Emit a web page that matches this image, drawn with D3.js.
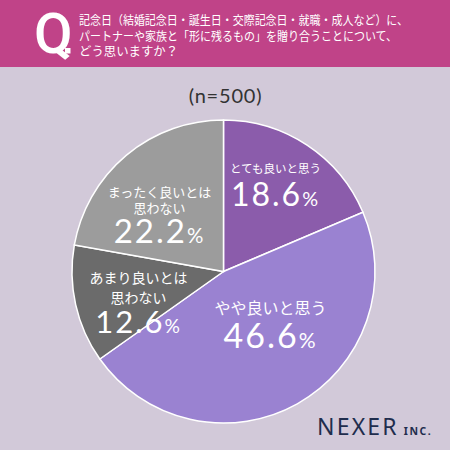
<!DOCTYPE html>
<html>
<head>
<meta charset="utf-8">
<script src="https://cdn.jsdelivr.net/npm/d3@7"></script>
<style>
  body { margin: 0; background: #d2c9d9; }
  svg { display: block; }
</style>
</head>
<body>
<div id="main"></div>
<script>
// question text and sample size
var questionLines = [
    "記念日（結婚記念日・誕生日・交際記念日・就職・成人など）に、",
    "パートナーや家族と「形に残るもの」を贈り合うことについて、",
    "どう思いますか？"
];
var sampleText = "(n=500)";

// answers, clockwise from 12 o'clock
var categories = ["とても良いと思う", "やや良いと思う", "あまり良いとは思わない", "まったく良いとは思わない"];
var labelLines = [["とても良いと思う"], ["やや良いと思う"], ["あまり良いとは", "思わない"], ["まったく良いとは", "思わない"]];
var values = [18.6, 46.6, 12.6, 22.2];
var colors = ["#8b5cab", "#9a82d1", "#6b6b6b", "#9c9c9c"];

// label placement relative to pie centre (layout only)
var labelPos = [
    { x: 52, y: -99, size: 11.5, num: 32, gap: 16, numGap: 33 },
    { x: 47, y: 42, size: 16, num: 34, gap: 19, numGap: 34 },
    { x: -85, y: 11.5, size: 14, num: 31, gap: 20, numGap: 30 },
    { x: -64, y: -74.5, size: 13, num: 33, gap: 16, numGap: 30 }
];

const width = 450;
const height = 450;
const cx = 223.5;
const cy = 271.5;
const radius = 151.5;

const jp = "'Noto Sans CJK JP', 'Noto Sans', sans-serif";
const numFont = "'Lato', 'Noto Sans', sans-serif";

const svg = d3.select("#main")
    .append("svg")
    .attr("width", width)
    .attr("height", height);

svg.append("rect")
    .attr("width", width)
    .attr("height", height)
    .attr("fill", "#d2c9d9");

// header band
svg.append("rect")
    .attr("width", width)
    .attr("height", 67)
    .attr("fill", "#c04388");

svg.append("text")
    .attr("x", 34)
    .attr("y", 53)
    .attr("fill", "#fff")
    .style("font-family", "Roboto, sans-serif")
    .style("font-weight", "500")
    .style("font-size", "56px")
    .text("Q");

svg.append("rect")
    .attr("x", 65)
    .attr("y", 48)
    .attr("width", 5.5)
    .attr("height", 5.5)
    .attr("fill", "#fff");

svg.append("g")
    .selectAll("text")
    .data(questionLines)
    .enter()
    .append("text")
    .attr("x", 79)
    .attr("y", (d, i) => 25 + i * 15.7)
    .attr("fill", "#fff")
    .attr("textLength", (d, i) => [329, 318, null][i])
    .attr("lengthAdjust", "spacingAndGlyphs")
    .style("font-family", jp)
    .style("font-size", "12.4px")
    .text(d => d);

svg.append("text")
    .attr("x", cx + 2)
    .attr("y", 103)
    .attr("text-anchor", "middle")
    .attr("fill", "#333")
    .style("font-family", numFont)
    .style("font-size", "20px")
    .style("letter-spacing", "0.8px")
    .text(sampleText);

// pie
const pie = d3.pie().sort(null).value(d => d);
const arc = d3.arc().innerRadius(0).outerRadius(radius);
const arcs = pie(values);

const g = svg.append("g")
    .attr("transform", "translate(" + cx + "," + cy + ")");

g.selectAll("path")
    .data(arcs)
    .enter()
    .append("path")
    .attr("d", arc)
    .attr("fill", (d, i) => colors[i])
    .attr("stroke", "#fff")
    .attr("stroke-width", 1.5);

const labels = g.selectAll("g.label")
    .data(arcs)
    .enter()
    .append("g")
    .attr("class", "label")
    .attr("transform", (d, i) => "translate(" + labelPos[i].x + "," + labelPos[i].y + ")");

labels.each(function (d, i) {
    const lg = d3.select(this);
    const p = labelPos[i];
    labelLines[i].forEach((line, k) => {
        lg.append("text")
            .attr("x", 0)
            .attr("y", k * p.gap)
            .attr("text-anchor", "middle")
            .attr("fill", "#fff")
            .style("font-family", jp)
            .style("font-size", p.size + "px")
            .text(line);
    });
    const t = lg.append("text")
        .attr("x", 0)
        .attr("y", (labelLines[i].length - 1) * p.gap + p.numGap)
        .attr("text-anchor", "middle")
        .attr("fill", "#fff")
        .style("font-family", numFont)
        .style("font-size", p.num + "px")
        .style("letter-spacing", "2px");
    t.append("tspan").text(d.data.toFixed(1));
    t.append("tspan").style("font-size", (p.num * 0.62) + "px").text("%");
});

// logo
const logo = svg.append("text")
    .attr("x", 317)
    .attr("y", 435)
    .attr("fill", "#1f2d4d")
    .style("font-family", "'Noto Sans', sans-serif");
logo.append("tspan")
    .style("font-size", "23px")
    .style("letter-spacing", "2.2px")
    .text("NEXER");
logo.append("tspan")
    .attr("dx", 5)
    .style("font-size", "10.5px")
    .style("font-weight", "700")
    .style("letter-spacing", "1.5px")
    .text("INC.");
</script>
</body>
</html>
